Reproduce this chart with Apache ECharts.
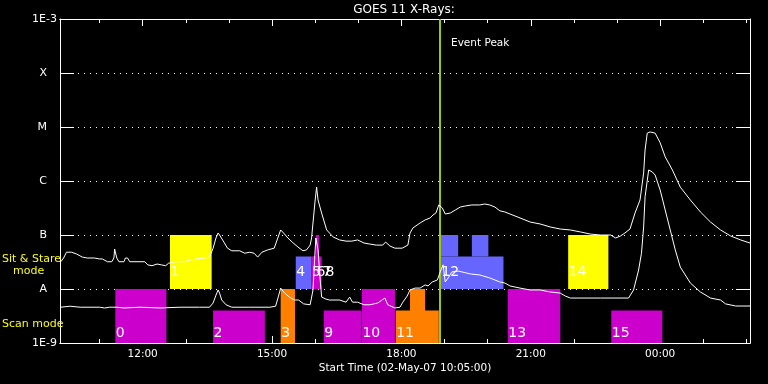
<!DOCTYPE html>
<html><head><meta charset="utf-8">
<script src="https://cdn.jsdelivr.net/npm/echarts@6/dist/echarts.min.js"></script>
<style>html,body{margin:0;padding:0;background:#000}#c{width:768px;height:384px}</style>
</head><body><div id="c"></div>
<script>
// ---- data ----
const startTime = '10:05';
const endTime = '02:05';
const eventPeakTime = '18:54';

// long channel (upper curve): [time, flux W/m^2]
const upperCurve = [
['10:06',3.2e-8],['10:10',3.75e-8],['10:14',4.8e-8],['10:21',4.8e-8],['10:28',4.45e-8],['10:36',3.9e-8],
['10:43',3.75e-8],['10:53',3.75e-8],['11:00',3.6e-8],['11:04',3.6e-8],['11:11',3.2e-8],['11:17',3.2e-8],
['11:20',3.75e-8],['11:21',5.5e-8],['11:24',3.75e-8],['11:27',3.2e-8],['11:34',3.2e-8],['11:36',3.75e-8],
['11:39',3.75e-8],['11:42',3.2e-8],['12:03',3.2e-8],['12:07',2.8e-8],['12:13',2.7e-8],['12:20',2.9e-8],
['12:26',2.8e-8],['12:32',2.7e-8],['12:36',3.0e-8],['12:45',3.2e-8],['12:59',3.2e-8],['13:06',3.45e-8],
['13:15',3.6e-8],['13:26',3.75e-8],['13:33',3.9e-8],['13:38',5.7e-8],['13:42',8.8e-8],['13:45',1.09e-7],
['13:47',1.0e-7],['13:53',7.4e-8],['13:58',5.7e-8],['14:04',5.1e-8],['14:10',5.1e-8],['14:15',5.1e-8],
['14:22',4.6e-8],['14:29',4.8e-8],['14:35',4.6e-8],['14:40',3.9e-8],['14:46',4.8e-8],['14:54',5.3e-8],
['15:03',5.7e-8],['15:08',8.8e-8],['15:12',1.24e-7],['15:16',1.09e-7],['15:22',8.8e-8],['15:28',7.4e-8],
['15:36',6.0e-8],['15:43',5.1e-8],['15:48',5.3e-8],['15:53',6.5e-8],['15:55',8.8e-8],['16:00',4.45e-7],
['16:02',7.7e-7],['16:04',4.45e-7],['16:09',2.55e-7],['16:16',1.24e-7],['16:25',9.2e-8],['16:34',8.1e-8],
['16:43',7.7e-8],['16:51',7.7e-8],['16:59',8.1e-8],['17:08',7.1e-8],['17:16',6.8e-8],['17:25',6.5e-8],
['17:34',6.5e-8],['17:38',7.4e-8],['17:44',6.25e-8],['17:51',5.7e-8],['18:01',5.7e-8],['18:09',6.5e-8],
['18:12',1.09e-7],['18:16',1.35e-7],['18:26',1.67e-7],['18:33',1.9e-7],['18:40',2.07e-7],['18:44',2.35e-7],
['18:48',2.55e-7],['18:52',3.6e-7],['18:57',3.16e-7],['19:01',2.45e-7],['19:08',2.55e-7],['19:15',2.9e-7],
['19:22',3.3e-7],['19:29',3.45e-7],['19:38',3.6e-7],['19:49',3.6e-7],['19:56',3.75e-7],['20:03',3.6e-7],
['20:10',3.3e-7],['20:17',2.8e-7],['20:24',2.67e-7],['20:31',2.45e-7],['20:45',2.07e-7],['20:59',1.74e-7],
['21:13',1.6e-7],['21:27',1.41e-7],['21:41',1.29e-7],['21:55',1.24e-7],['22:09',1.14e-7],['22:23',1.04e-7],
['22:37',1.0e-7],['22:51',1.0e-7],['22:58',8.8e-8],['23:05',9.6e-8],['23:11',1.09e-7],['23:18',1.29e-7],
['23:25',2.55e-7],['23:32',4.45e-7],['23:37',1.41e-6],['23:39',3.75e-6],['23:42',7.7e-6],['23:46',8.1e-6],
['23:53',7.7e-6],['00:00',5.1e-6],['00:07',2.8e-6],['00:17',1.6e-6],['00:28',7.7e-7],['00:42',4.45e-7],
['00:56',2.67e-7],['01:10',1.74e-7],['01:24',1.24e-7],['01:38',9.6e-8],['01:52',8.1e-8],['02:05',7.1e-8]
];

// short channel (lower curve)
const lowerCurve = [
['10:06',4.6e-9],['10:19',4.8e-9],['10:33',4.6e-9],['11:00',4.6e-9],['11:07',4.45e-9],['11:14',4.6e-9],
['11:24',4.6e-9],['11:34',4.45e-9],['11:56',4.6e-9],['12:24',4.45e-9],['12:52',4.6e-9],['13:19',4.6e-9],
['13:33',4.6e-9],['13:38',5.5e-9],['13:42',7.7e-9],['13:45',9.6e-9],['13:47',8.4e-9],['13:50',6.25e-9],
['13:56',5.1e-9],['14:04',4.6e-9],['14:29',4.6e-9],['14:57',4.6e-9],['15:05',4.8e-9],['15:09',7.4e-9],
['15:12',1.04e-8],['15:15',9.2e-9],['15:19',8.1e-9],['15:24',7.1e-9],['15:31',6.25e-9],['15:37',6.25e-9],
['15:44',5.3e-9],['15:53',5.1e-9],['15:57',9.6e-9],['16:00',5.3e-8],['16:01',8.8e-8],['16:04',5.3e-8],
['16:07',1.47e-8],['16:09',7.1e-9],['16:15',6.5e-9],['16:20',6.25e-9],['16:34',6.25e-9],['16:43',5.7e-9],
['16:48',7.1e-9],['16:52',5.7e-9],['16:59',5.7e-9],['17:08',5.1e-9],['17:16',5.1e-9],['17:27',5.5e-9],
['17:33',6.25e-9],['17:37',6.8e-9],['17:41',5.1e-9],['17:51',4.45e-9],['17:58',4.6e-9],['18:02',5.7e-9],
['18:08',7.4e-9],['18:12',9.6e-9],['18:19',1.04e-8],['18:26',1.04e-8],['18:33',1.19e-8],['18:37',1.14e-8],
['18:43',1.35e-8],['18:50',1.47e-8],['18:54',2.07e-8],['18:58',2.8e-8],['19:01',1.35e-8],['19:05',1.6e-8],
['19:10',2.07e-8],['19:19',2.15e-8],['19:29',2.0e-8],['19:36',1.9e-8],['19:49',1.82e-8],['20:03',1.6e-8],
['20:17',1.35e-8],['20:24',1.29e-8],['20:31',1.14e-8],['20:45',1.04e-8],['20:59',9.6e-9],['21:13',9.6e-9],
['21:27',8.8e-9],['21:41',8.4e-9],['21:48',7.4e-9],['21:55',6.8e-9],['22:37',6.8e-9],['23:16',6.8e-9],
['23:23',9.6e-9],['23:30',2.25e-8],['23:34',4.6e-8],['23:37',1.41e-7],['23:39',5.1e-7],['23:44',1.6e-6],
['23:49',1.47e-6],['23:53',1.29e-6],['00:00',6.8e-7],['00:07',2.9e-7],['00:14',1.24e-7],['00:21',5.3e-8],
['00:28',2.55e-8],['00:42',1.29e-8],['00:56',8.8e-9],['01:10',6.8e-9],['01:24',6.25e-9],['01:31',5.3e-9],
['01:45',4.84e-9],['02:05',4.84e-9]
];

// observing blocks: label, start, end, low flux, high flux, colour key
const blockLabels = ['0','1','2','3','4','5','6','7','8','9','10','11','','12','','','13','14','15'];
const blockStart  = ['11:22','12:38','13:38','15:12','15:33','15:55','15:57','16:01','16:01','16:12','17:05','17:52','18:12','18:55','18:55','19:38','20:28','21:52','22:52'];
const blockEnd    = ['12:33','13:36','14:50','15:32','15:55','16:09','16:07','16:05','16:05','17:04','17:51','18:52','18:33','20:22','19:19','20:01','21:41','22:48','00:03'];
const blockLow    = [1e-9,1e-8,1e-9,1e-9,1e-8,1e-8,1e-8,1e-8,1e-8,1e-9,1e-9,1e-9,1e-9,1e-8,4e-8,4e-8,1e-9,1e-8,1e-9];
const blockHigh   = [1e-8,1e-7,4e-9,1e-8,4e-8,4e-8,4e-8,1e-7,1e-7,4e-9,1e-8,4e-9,1e-8,4e-8,1e-7,1e-7,1e-8,1e-7,4e-9];
const blockColor  = ['M','Y','M','O','B','M','M','M','M','M','M','O','O','B','B','B','M','Y','M'];
const labelShift  = [0,0,0,0,0,0,3,6,9,0,0,0,0,0,0,0,0,0,0];

const yTickLabels = ['1E-9','A','B','C','M','X','1E-3'];
const xMajorTicks = ['12:00','15:00','18:00','21:00','00:00'];
const xMinorTicks = ['11:00','12:00','13:00','14:00','15:00','16:00','17:00','18:00','19:00','20:00','21:00','22:00','23:00','00:00','01:00','02:00'];

// ---- helpers / styles ----
function toH(t){const p=t.split(':');let h=+p[0]+(+p[1])/60;if(h<10)h+=24;return h;}
const palette = {M:'#CC00CC', Y:'#FFFF00', O:'#FF8000', B:'#6666FF'};
const FONT = '"DejaVu Sans", sans-serif';
const xMin = toH(startTime), xMax = toH(endTime);

const blockData = blockLabels.map((l,i)=>[toH(blockStart[i]),toH(blockEnd[i]),blockLow[i],blockHigh[i]]);

const chart = echarts.init(document.getElementById('c'), null, {renderer:'canvas'});

function xAxisCfg(pos, ticks, len, labels){
  return {
    type:'value', min:xMin, max:xMax, position:pos, gridIndex:0,
    axisLine:{show:true, lineStyle:{color:'#fff', width:1}},
    axisTick:{show:true, inside:true, length:len, customValues:ticks.map(toH), lineStyle:{color:'#fff', width:1}},
    axisLabel: labels ? {show:true, customValues:ticks.map(toH), color:'#fff', fontFamily:FONT, fontSize:10.5, margin:6,
      formatter:v=>{const h=Math.round(v)%24;return (h<10?'0':'')+h+':00';}} : {show:false},
    splitLine:{show:false}
  };
}

const option = {
  backgroundColor:'#000',
  animation:false,
  textStyle:{fontFamily:FONT},
  grid:{left:60, right:18, top:19, bottom:41, containLabel:false},
  xAxis:[
    xAxisCfg('bottom', xMajorTicks, 7, true),
    xAxisCfg('bottom', xMinorTicks, 4, false),
    xAxisCfg('top', xMajorTicks, 7, false),
    xAxisCfg('top', xMinorTicks, 4, false)
  ],
  yAxis:[
    {type:'log', logBase:10, min:1e-9, max:1e-3, interval:1, position:'left',
     axisLine:{show:true, lineStyle:{color:'#fff', width:1}},
     axisTick:{show:true, inside:true, length:14, lineStyle:{color:'#fff', width:1}},
     axisLabel:{show:true, color:'#fff', fontFamily:FONT, fontSize:11, margin:3,
       formatter:v=>{const k=Math.round(Math.log10(v))+9;const s=yTickLabels[k];return s.length>1?'{n|'+s+'}':'{c|'+s+'}';},
       rich:{n:{color:'#fff',fontFamily:FONT,fontSize:11}, c:{color:'#fff',fontFamily:FONT,fontSize:11,padding:[0,10,0,0]}}},
     splitLine:{show:true, lineStyle:{color:'#fff', width:1, type:[1,5]}}},
    {type:'log', logBase:10, min:1e-9, max:1e-3, interval:1, position:'right',
     axisLine:{show:true, lineStyle:{color:'#fff', width:1}},
     axisTick:{show:true, inside:true, length:14, lineStyle:{color:'#fff', width:1}},
     axisLabel:{show:false}, splitLine:{show:false}}
  ],
  series:[
    {type:'custom', xAxisIndex:0, yAxisIndex:0, data:blockData, encode:{x:[0,1], y:[2,3]}, z:2, silent:true,
     renderItem:(params, api)=>{
       const i=params.dataIndex;
       const p0=api.coord([api.value(0), api.value(3)]);
       const p1=api.coord([api.value(1), api.value(2)]);
       const children=[{type:'rect', shape:{x:p0[0], y:p0[1], width:p1[0]-p0[0], height:p1[1]-p0[1]}, style:{fill:palette[blockColor[i]]}}];
       const lab=blockLabels[i];
       if(lab){
         const scan = blockLow[i] < 5e-9;
         const yc = scan ? p1[1]-10 : p1[1]-16.5;
         children.push({type:'text', z2:10, style:{text:lab, x:p0[0]+0.5+labelShift[i], y:yc, fill:'#fff', font:'14px '+FONT, align:'left', verticalAlign:'middle'}});
       }
       return {type:'group', children};
     }},
    {type:'line', name:'upper', xAxisIndex:0, yAxisIndex:0, data:upperCurve.map(d=>[toH(d[0]),d[1]]), showSymbol:false, symbol:'none',
     lineStyle:{color:'#fff', width:1}, z:5, silent:true,
     markLine:{symbol:'none', silent:true, label:{show:false}, lineStyle:{color:'#99CC00', width:2, type:'solid'},
       data:[{xAxis:toH(eventPeakTime)}]}},
    {type:'line', name:'lower', xAxisIndex:0, yAxisIndex:0, data:lowerCurve.map(d=>[toH(d[0]),d[1]]), showSymbol:false, symbol:'none',
     lineStyle:{color:'#fff', width:1}, z:5, silent:true}
  ],
  graphic:[
    {type:'text', x:404, y:10, style:{text:'GOES 11 X-Rays:', fill:'#fff', font:'12px '+FONT, align:'center', verticalAlign:'middle'}},
    {type:'text', x:451, y:43, z:10, style:{text:'Event Peak', fill:'#fff', font:'10.5px '+FONT, align:'left', verticalAlign:'middle'}},
    {type:'text', x:405, y:368, style:{text:'Start Time (02-May-07 10:05:00)', fill:'#fff', font:'10.5px '+FONT, align:'center', verticalAlign:'middle'}},
    {type:'text', x:2, y:259, z:10, style:{text:'Sit & Stare', fill:'#FFFF00', font:'11px '+FONT, align:'left', verticalAlign:'middle'}},
    {type:'text', x:13, y:271, z:10, style:{text:'mode', fill:'#FFFF00', font:'11px '+FONT, align:'left', verticalAlign:'middle'}},
    {type:'text', x:2, y:324, z:10, style:{text:'Scan mode', fill:'#FFFF00', font:'11px '+FONT, align:'left', verticalAlign:'middle'}}
  ]
};
chart.setOption(option);
</script>
</body></html>
